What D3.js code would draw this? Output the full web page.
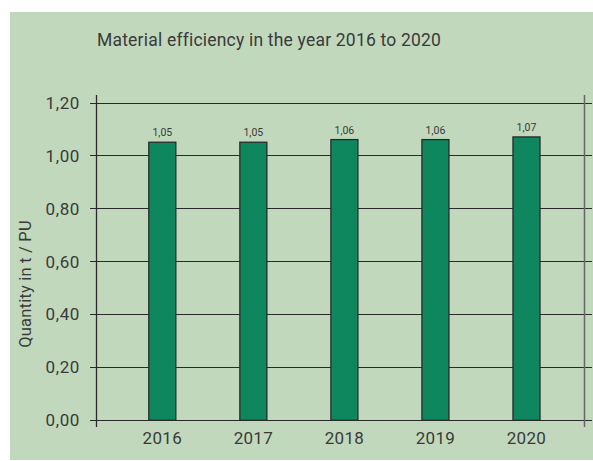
<!DOCTYPE html>
<html>
<head>
<meta charset="utf-8">
<script src="https://cdn.jsdelivr.net/npm/d3@7"></script>
<style>
  body { margin: 0; background: #fff; }
  text { font-family: Roboto, "Liberation Sans", sans-serif; font-weight: 400; fill: #3a3a3a; }
</style>
</head>
<body>
<script>
// chart data
var years = ["2016", "2017", "2018", "2019", "2020"];
var efficiency = [1.05, 1.05, 1.06, 1.06, 1.07];
var yTicks = [0, 0.2, 0.4, 0.6, 0.8, 1.0, 1.2];

var svgWidth = 593;
var svgHeight = 461;

var svg = d3.select("body")
    .append("svg")
    .attr("width", svgWidth)
    .attr("height", svgHeight);

// green panel
svg.append("rect")
    .attr("x", 10)
    .attr("y", 12)
    .attr("width", svgWidth - 10)
    .attr("height", 448)
    .attr("fill", "#c1d8bc");

var data = years.map(function (y, i) {
    return { year: y, value: efficiency[i] };
});

var fmt = function (v) { return d3.format(".2f")(v).replace(".", ","); };

var xScale = d3.scaleBand()
    .domain(years)
    .range([116.8, 572])
    .paddingInner(0.703)
    .paddingOuter(0.3515);

var yScale = d3.scaleLinear()
    .domain([0, 1.2])
    .range([420.3, 102.5]);

var axisLeft = 96;
var axisRight = 584;

// gridlines
svg.append("g")
    .selectAll("line")
    .data(yTicks)
    .enter()
    .append("line")
    .attr("x1", 90)
    .attr("x2", 592)
    .attr("y1", d => Math.round(yScale(d)) + 0.5)
    .attr("y2", d => Math.round(yScale(d)) + 0.5)
    .attr("stroke", "#2a2a2a")
    .attr("stroke-width", 1.2);

// right frame line
svg.append("line")
    .attr("x1", axisRight + 0.5)
    .attr("x2", axisRight + 0.5)
    .attr("y1", 95)
    .attr("y2", 427)
    .attr("stroke", "#666")
    .attr("stroke-width", 1.5);

// bars
svg.append("g")
    .selectAll("rect")
    .data(data)
    .enter()
    .append("rect")
    .attr("x", d => xScale(d.year))
    .attr("y", d => yScale(d.value))
    .attr("width", xScale.bandwidth())
    .attr("height", d => yScale(0) - yScale(d.value))
    .attr("fill", "#0e875f")
    .attr("stroke", "#2a2a2a")
    .attr("stroke-width", 1.3);

// left axis line
svg.append("line")
    .attr("x1", axisLeft + 0.5)
    .attr("x2", axisLeft + 0.5)
    .attr("y1", 95)
    .attr("y2", 427)
    .attr("stroke", "#2a2a2a")
    .attr("stroke-width", 1.3);

// value labels
svg.append("g")
    .selectAll("text")
    .data(data)
    .enter()
    .append("text")
    .attr("x", d => xScale(d.year) + xScale.bandwidth() / 2)
    .attr("y", d => yScale(d.value) - 6)
    .attr("text-anchor", "middle")
    .attr("font-size", 10.5)
    .text(d => fmt(d.value));

// y tick labels
svg.append("g")
    .selectAll("text")
    .data(yTicks)
    .enter()
    .append("text")
    .attr("x", 80)
    .attr("y", d => yScale(d))
    .attr("dy", "0.36em")
    .attr("text-anchor", "end")
    .attr("font-size", 17)
    .attr("letter-spacing", 0.6)
    .text(d => fmt(d));

// x labels
svg.append("g")
    .selectAll("text")
    .data(years)
    .enter()
    .append("text")
    .attr("x", d => xScale(d) + xScale.bandwidth() / 2)
    .attr("y", 444)
    .attr("text-anchor", "middle")
    .attr("font-size", 17)
    .attr("letter-spacing", 0.3)
    .text(d => d);

// y axis title
svg.append("text")
    .attr("transform", "translate(31, 284) rotate(-90)")
    .attr("text-anchor", "middle")
    .attr("font-size", 16.5)
    .attr("letter-spacing", 0.2)
    .text("Quantity in t / PU");

// chart title
svg.append("text")
    .attr("x", 97)
    .attr("y", 46)
    .attr("font-size", 17.5)
    .attr("letter-spacing", 0.2)
    .text("Material efficiency in the year 2016 to 2020");
</script>
</body>
</html>
